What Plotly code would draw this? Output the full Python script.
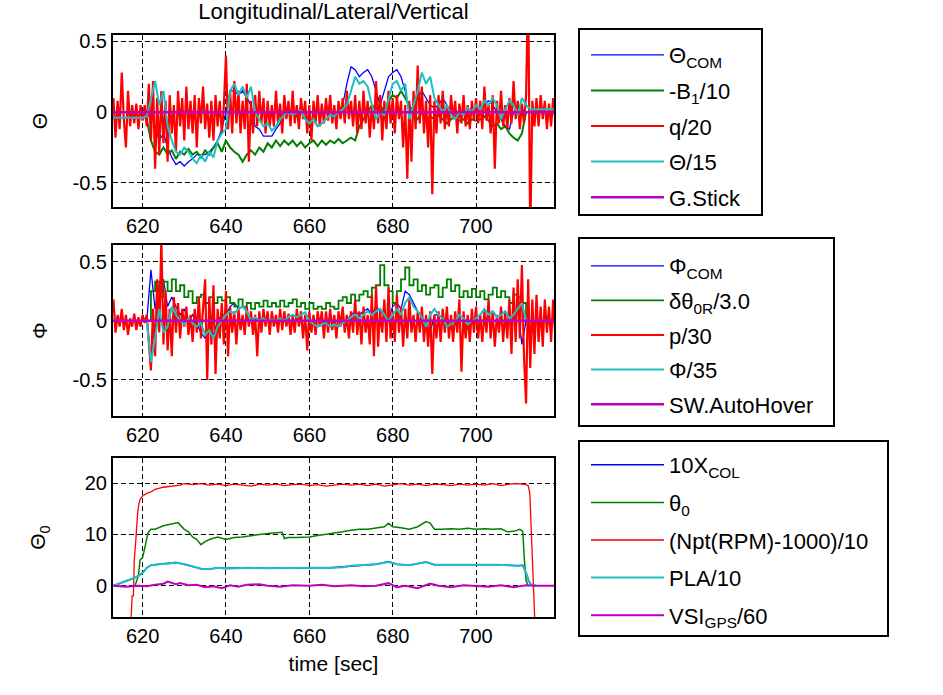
import numpy as np
import plotly.graph_objects as go

FONT = "Liberation Sans, Arial, sans-serif"
BLUE = "rgb(0,0,255)"
GREEN = "rgb(0,128,0)"
RED = "rgb(255,0,0)"
CYAN = "rgb(30,190,195)"
MAGENTA = "rgb(191,0,191)"

# ---------------- Panel 1 : Theta ----------------
q20_start, q20_step = 613.0, 0.5
q20_vals = [
    0.10, -0.18, 0.08, -0.12, 0.28, -0.05, -0.25, 0.15, -0.10, 0.05,
    -0.08, 0.06, -0.12, 0.05, -0.06, 0.05, -0.10, 0.20, -0.20, 0.22,
    -0.40, 0.10, -0.30, 0.15, -0.22, 0.08, -0.35, 0.12, -0.15, 0.05,
    -0.28, 0.15, -0.10, 0.10, -0.20, 0.18, -0.12, 0.08, -0.15, 0.12,
    -0.25, 0.10, -0.08, 0.18, -0.12, 0.06, -0.18, 0.08, -0.20, 0.12,
    -0.10, 0.08, -0.15, 0.05, 0.40, -0.12, 0.15, -0.15, 0.22, -0.08,
    0.15, -0.15, 0.08, -0.12, 0.20, -0.35, 0.08, -0.15, 0.12, -0.10,
    0.15, -0.08, 0.10, -0.15, 0.08, -0.10, 0.05, -0.10, 0.15, -0.08,
    0.06, -0.15, 0.12, -0.05, 0.08, -0.10, 0.15, -0.08, 0.05, -0.12,
    0.10, -0.05, 0.08, -0.15, 0.05, -0.20, 0.08, -0.08, 0.12, -0.10,
    0.06, -0.08, 0.10, -0.06, 0.12, -0.08, 0.05, -0.12, 0.08, -0.05,
    0.10, -0.08, 0.15, -0.05, 0.08, -0.10, 0.12, -0.15, 0.08, -0.12,
    0.15, -0.08, 0.08, -0.18, 0.05, -0.12, 0.22, -0.08, 0.12, -0.20,
    0.08, -0.12, 0.15, -0.08, 0.10, -0.15, 0.12, -0.05, 0.08, -0.25,
    0.05, -0.47, 0.08, -0.35, 0.15, -0.12, 0.33, -0.08, 0.18, -0.15,
    0.08, -0.25, 0.12, -0.58, 0.08, -0.15, 0.12, -0.08, 0.15, -0.12,
    0.05, -0.10, 0.12, -0.05, 0.08, -0.15, 0.06, -0.08, 0.12, -0.10,
    0.05, -0.12, 0.08, -0.06, 0.10, -0.08, 0.08, -0.12, 0.18, -0.06,
    0.05, -0.15, 0.12, -0.40, 0.08, -0.08, 0.15, -0.10, 0.05, -0.12,
    0.10, -0.08, 0.22, -0.05, 0.08, -0.12, 0.06, -0.08, 0.12, 0.90,
    -0.90, 0.08, -0.10, 0.10, -0.10, 0.12, -0.05, 0.08, -0.12, 0.06,
    -0.10, 0.10, -0.05,
]
theta15_start = 613.0
theta15_vals = [
    -0.04, -0.04, -0.04, -0.04, -0.04, -0.04, -0.04, -0.04, -0.03, 0.10,
    0.22, 0.05, 0.15, -0.10, -0.20, -0.28, -0.30, -0.25, -0.28, -0.33,
    -0.36, -0.30, -0.35, -0.28, -0.32, -0.20, -0.15, -0.12, 0.15, 0.20,
    0.12, 0.18, 0.10, 0.18, 0.00, -0.05, -0.10, -0.08, -0.13, -0.10,
    -0.05, -0.02, 0.00, -0.02, 0.00, 0.01, -0.05, -0.08, -0.05, -0.10,
    -0.08, -0.05, -0.02, -0.03, 0.00, 0.02, 0.05, 0.15, 0.25, 0.20,
    0.22, 0.18, 0.05, -0.05, 0.00, -0.02, 0.10, 0.20, 0.22, 0.15,
    0.20, -0.05, 0.05, 0.15, 0.28, 0.20, 0.25, 0.10, 0.05, 0.00,
    0.05, -0.02, -0.05, 0.00, -0.02, 0.03, 0.00, 0.05, 0.02, 0.08,
    0.05, 0.10, 0.05, -0.05, 0.02, 0.08, 0.05, -0.02, 0.10, 0.05,
    0.02, 0.02, 0.02, 0.02, 0.02, 0.02, 0.02,
]
thetacom_start = 613.0
thetacom_vals = [
    -0.04, -0.04, -0.04, -0.04, -0.04, -0.04, -0.04, -0.04, -0.04, 0.00,
    -0.10, -0.20, -0.15, -0.25, -0.32, -0.37, -0.35, -0.38, -0.35, -0.33,
    -0.30, -0.30, -0.30, -0.28, -0.25, -0.20, -0.12, 0.00, 0.15, 0.15,
    0.12, 0.15, 0.10, 0.05, -0.10, -0.12, -0.17, -0.17, -0.17, -0.12,
    -0.08, -0.02, 0.00, -0.02, 0.00, 0.02, -0.05, -0.08, -0.05, -0.10,
    -0.08, -0.05, -0.02, -0.03, 0.00, 0.05, 0.20, 0.32, 0.30, 0.25,
    0.28, 0.30, 0.25, 0.15, 0.05, 0.15, 0.25, 0.28, 0.30, 0.25,
    0.15, 0.00, 0.05, 0.10, 0.15, 0.10, 0.05, 0.03, 0.05, 0.10,
    0.05, 0.00, -0.05, 0.00, -0.02, 0.03, 0.00, 0.05, 0.02, 0.06,
    0.08, 0.05, 0.00, -0.05, -0.10, -0.12, 0.00, 0.05, 0.02, 0.00,
]
b1_start = 621.0
b1_vals = [
    -0.05, -0.20, -0.28, -0.30, -0.25, -0.30, -0.27, -0.33, -0.28, -0.30,
    -0.26, -0.30, -0.28, -0.32, -0.27, -0.30, -0.25, -0.22, -0.28, -0.20,
    -0.25, -0.28, -0.30, -0.35, -0.30, -0.27, -0.30, -0.25, -0.28, -0.22,
    -0.25, -0.20, -0.24, -0.20, -0.23, -0.20, -0.24, -0.21, -0.25, -0.22,
    -0.20, -0.24, -0.20, -0.23, -0.20, -0.22, -0.19, -0.22, -0.20, -0.18,
    -0.20, -0.10, -0.05, 0.00, 0.05, 0.02, 0.05, 0.00, 0.08, 0.12,
    0.10, 0.15, 0.10, 0.05, -0.02, -0.05, 0.00, -0.05, -0.03, -0.05,
    -0.02, -0.05, -0.08, -0.05, -0.03, -0.06, -0.05, -0.08, -0.05, -0.06,
    -0.05, -0.03, -0.06, -0.10, -0.08, -0.12, -0.10, -0.15, -0.18, -0.20,
    -0.15, 0.00,
]
gstick_t = [613.0, 719.0]
gstick_vals = [0.0, 0.0]

# ---------------- Panel 2 : Phi ----------------
p30_start, p30_step = 613.0, 0.5
p30_vals = [
    0.18, -0.10, 0.05, -0.05, 0.10, -0.08, 0.05, -0.12, 0.02, -0.05,
    0.06, -0.08, 0.03, -0.05, 0.05, -0.02, 0.05, -0.20, -0.42, 0.10,
    -0.30, 0.35, -0.10, 0.70, -0.20, 0.25, -0.25, 0.10, -0.30, 0.20,
    -0.10, 0.15, -0.15, 0.10, -0.05, 0.12, -0.12, 0.05, -0.18, 0.10,
    -0.10, 0.20, -0.15, 0.10, 0.35, -0.50, 0.20, -0.20, 0.30, -0.45,
    0.10, -0.15, 0.15, -0.20, 0.25, -0.30, 0.12, -0.10, 0.08, -0.20,
    0.10, -0.08, 0.05, -0.12, 0.12, -0.05, 0.08, -0.12, 0.05, -0.30,
    0.08, -0.10, 0.10, -0.05, 0.08, -0.12, 0.08, -0.05, 0.05, -0.10,
    0.10, -0.08, 0.08, -0.05, 0.06, -0.12, 0.05, -0.10, 0.10, -0.05,
    0.08, -0.15, 0.05, -0.25, 0.08, -0.10, 0.05, -0.12, 0.08, -0.05,
    0.08, -0.15, 0.08, -0.10, 0.10, -0.08, 0.05, -0.15, 0.08, -0.05,
    0.12, -0.10, 0.05, -0.15, 0.08, -0.10, 0.18, -0.12, 0.08, -0.20,
    0.12, -0.10, 0.05, -0.20, 0.22, -0.30, 0.30, -0.22, 0.08, -0.10,
    0.18, -0.18, 0.28, -0.15, 0.08, -0.18, 0.22, -0.10, 0.12, -0.22,
    0.10, -0.15, 0.18, -0.10, 0.05, -0.18, 0.08, -0.10, 0.12, -0.18,
    0.05, -0.22, 0.08, -0.45, 0.05, -0.15, 0.08, -0.18, 0.10, -0.10,
    0.12, -0.15, 0.05, -0.18, 0.08, -0.10, 0.18, -0.43, 0.08, -0.15,
    0.05, -0.18, 0.10, -0.10, 0.12, -0.15, 0.05, -0.18, 0.08, -0.10,
    0.18, -0.15, 0.08, -0.22, 0.05, -0.10, 0.12, -0.18, 0.08, -0.15,
    0.18, -0.28, 0.28, -0.18, 0.35, -0.15, 0.47, -0.30, -0.70, 0.35,
    -0.40, 0.18, -0.28, 0.22, -0.18, 0.12, -0.22, 0.18, -0.10, 0.12,
    -0.18, 0.18, -0.12,
]
phi35_start = 613.0
phi35_vals = [
    0.00, 0.00, 0.00, 0.00, 0.00, 0.00, 0.00, 0.00, 0.00, -0.35,
    -0.15, 0.10, -0.10, -0.05, 0.12, 0.05, 0.00, -0.03, 0.02, -0.02,
    -0.05, -0.02, -0.12, -0.08, -0.15, -0.05, 0.00, 0.05, 0.08, 0.06,
    0.10, 0.12, 0.08, 0.00, 0.03, 0.00, 0.02, 0.00, 0.01, 0.00,
    0.02, 0.00, 0.03, 0.05, 0.03, 0.05, 0.07, 0.00, -0.03, -0.05,
    -0.03, -0.02, -0.05, -0.03, -0.05, -0.02, 0.00, 0.03, 0.05, 0.02,
    0.05, 0.08, 0.05, 0.08, 0.10, 0.05, 0.00, 0.05, 0.10, 0.05,
    0.15, 0.20, 0.12, 0.08, 0.03, -0.05, 0.05, 0.10, 0.05, 0.02,
    -0.05, -0.03, 0.00, 0.05, 0.02, -0.03, 0.00, 0.02, 0.05, 0.10,
    0.05, 0.08, 0.03, 0.05, 0.08, 0.02, 0.05, 0.10, 0.15, 0.00,
    0.00, 0.00, 0.00, 0.00, 0.00, 0.00, 0.00,
]
phicom_start = 613.0
phicom_vals = [
    0.00, 0.00, 0.00, 0.00, 0.00, 0.00, 0.00, 0.00, 0.00, 0.43,
    0.10, 0.30, 0.35, 0.12, 0.20, 0.12, 0.05, 0.10, 0.00, 0.05,
    -0.02, -0.10, -0.15, -0.05, -0.12, 0.00, 0.05, 0.05, 0.12, 0.15,
    0.10, 0.12, 0.08, 0.00, 0.03, 0.00, 0.02, 0.00, 0.01, 0.00,
    0.02, 0.00, 0.03, 0.05, 0.03, 0.05, 0.07, 0.00, -0.03, -0.05,
    -0.03, -0.02, -0.05, -0.03, -0.05, -0.02, 0.00, 0.05, 0.08, 0.05,
    0.08, 0.10, 0.05, 0.12, 0.08, 0.05, 0.02, 0.12, 0.15, 0.10,
    0.25, 0.22, 0.15, 0.08, 0.03, -0.05, -0.10, 0.05, 0.05, 0.02,
    -0.05, -0.03, 0.00, 0.05, 0.02, -0.03, 0.00, 0.02, 0.05, 0.10,
    0.05, 0.08, 0.03, 0.05, 0.08, 0.02, 0.05, 0.10, -0.20, 0.00,
    0.00,
]
d0r_start = 621.0
d0r_vals = [
    0.00, 0.25, 0.33, 0.20, 0.33, 0.25, 0.35, 0.25, 0.30, 0.20,
    0.25, 0.15, 0.20, 0.22, 0.15, 0.20, 0.15, 0.20, 0.17, 0.20,
    0.15, 0.12, 0.18, 0.12, 0.15, 0.10, 0.15, 0.12, 0.17, 0.12,
    0.15, 0.12, 0.17, 0.12, 0.15, 0.18, 0.12, 0.15, 0.10, 0.15,
    0.10, 0.12, 0.10, 0.15, 0.12, 0.10, 0.17, 0.20, 0.15, 0.22,
    0.17, 0.22, 0.25, 0.20, 0.28, 0.30, 0.47, 0.30, 0.25, 0.15,
    0.25, 0.35, 0.45, 0.30, 0.35, 0.25, 0.30, 0.22, 0.28, 0.30,
    0.20, 0.28, 0.35, 0.25, 0.30, 0.20, 0.25, 0.20, 0.27, 0.20,
    0.25, 0.18, 0.22, 0.28, 0.20, 0.25, 0.20, 0.15, 0.22, 0.20,
    0.15, 0.00,
]
autohover_t = [613.0, 719.0]
autohover_vals = [0.0, 0.0]

# ---------------- Panel 3 : Theta0 ----------------
npt_t = [617.2, 617.5, 617.8, 618.0, 618.3, 618.5, 618.8, 619.1, 619.5, 620.0,
         621.0, 622.0, 623.0, 625.0, 627.0, 629.0, 630.0,
         632.0, 634.0, 636.0, 638.0, 640.0, 642.0, 644.0, 646.0, 648.0, 650.0,
         652.0, 654.0, 656.0, 658.0, 660.0, 662.0, 664.0, 666.0, 668.0, 670.0,
         672.0, 674.0, 676.0, 678.0, 680.0, 682.0, 684.0, 686.0, 688.0, 690.0,
         692.0, 694.0, 696.0, 698.0, 700.0, 702.0, 704.0, 706.0, 708.0, 710.0,
         712.0, 712.5, 712.9, 713.2, 713.5, 713.8, 714.1]
npt_vals = [-7, -2, -2, 5, 8, 11, 14, 16, 17, 17.5,
            18, 18.3, 18.8, 19.2, 19.4, 19.6, 19.9,
            19.7, 19.9, 19.6, 19.8, 19.5, 19.8, 19.6, 19.4, 19.8, 19.6,
            19.8, 19.5, 19.7, 19.8, 19.5, 19.7, 19.4, 19.6, 19.8, 19.6,
            19.8, 19.5, 19.8, 19.4, 19.7, 19.9, 19.6, 19.8, 19.5, 19.8,
            19.7, 19.5, 19.8, 19.6, 19.8, 19.6, 19.9, 19.5, 19.8, 19.9,
            19.7, 19.5, 18, 12, 3, -3, -7]
th0_t = [618.2, 619.0, 619.4, 620.0, 620.7, 621.3, 622.0, 623.0, 625.0, 627.0, 628.5,
         630.0, 631.0, 632.0, 633.0, 634.0, 635.0, 636.0, 638.0, 640.0, 642.0,
         644.0, 646.0, 648.0, 650.0, 652.0, 653.5, 654.0, 655.0, 657.0, 660.0,
         662.0, 664.0, 666.0, 668.0, 670.0, 672.0, 674.0, 676.0, 678.0, 679.0,
         680.0, 682.0, 684.0, 686.0, 688.0, 689.0, 690.0, 692.0, 694.0, 696.0,
         698.0, 700.0, 702.0, 704.0, 706.0, 707.5, 709.0, 710.5, 711.2, 711.6,
         712.0, 712.5]
th0_vals = [0, 2, 5, 5.5, 8, 10.3, 11, 11, 11.7, 12, 12.3,
            11, 10.5, 9.5, 9, 8, 8.6, 9, 9.5, 9, 9.4,
            9.5, 9.8, 10, 10.2, 10.3, 10.4, 9.2, 9.4, 9.4, 9.5,
            9.8, 10, 10.3, 10.5, 10.8, 11, 11, 11.2, 11.5, 12.2,
            11.5, 11.3, 11, 11.5, 12.5, 12.2, 11, 11, 11.1, 11,
            11.2, 11, 11.1, 11, 11.1, 10.5, 10.6, 11, 10.6, 5,
            1, 0]
pla_t = [613, 614, 615, 616, 617, 618, 619, 620, 621, 622,
         624, 626, 628, 630, 632, 634, 636, 638, 640,
         645, 650, 655, 660, 665,
         668, 670, 672, 676, 679, 681, 684, 688, 690,
         695, 700, 705, 710,
         711.2, 712, 712.6, 713.2, 714.5]
pla_vals = [0, 0.3, 0.6, 0.8, 1.2, 1.5, 1.9, 2.5, 3.5, 4,
            4.2, 4.4, 4.5, 4.2, 3.8, 3.3, 3.2, 3.5, 3.3,
            3.5, 3.4, 3.5, 3.5, 3.5,
            3.6, 3.9, 4.0, 4.2, 4.6, 4.2, 4.0, 4.6, 4.1,
            4.1, 4.0, 4.1, 3.9,
            4.0, 2.5, 1.0, 0.2, 0.0]
xcol_t = pla_t
xcol_vals = [0, 0.3, 0.6, 0.8, 1.2, 1.5, 1.9, 2.5, 3.5, 4,
             4.2, 4.4, 4.5, 4.2, 3.8, 3.3, 3.2, 3.5, 3.4,
             3.5, 3.4, 3.5, 3.5, 3.5,
             3.7, 3.9, 4.0, 4.2, 4.7, 4.2, 4.0, 4.6, 4.1,
             4.1, 4.0, 4.1, 3.9,
             4.0, 2.5, 1.0, 0.2, 0.0]
vsi_t = [613, 616, 619, 621, 623, 625, 626, 628, 629, 631,
         633, 635, 637, 639, 641, 643, 645, 648, 650, 653,
         656, 660, 663, 666, 670, 673, 676, 679, 681, 683,
         686, 689, 691, 694, 697, 700, 703, 706, 709, 712,
         714, 719]
vsi_vals = [0, -0.2, 0, -0.1, 0.2, 0.4, 0.8, 0.3, 0.5, 0.1,
            0.2, -0.3, -0.1, -0.5, 0.1, -0.2, 0.2, 0.3, 0.0, -0.2,
            0.1, 0.0, 0.2, -0.1, 0.1, -0.1, 0.0, 0.5, -0.3, 0.0,
            -0.5, 0.4, 0.0, -0.3, 0.1, 0.0, -0.2, 0.1, -0.3, 0.1,
            0.0, 0.0]

# axis text
x_ticks = [620, 640, 660, 680, 700]
y12_ticks = [-0.5, 0, 0.5]
y12_ticklabels = ["-0.5", "0", "0.5"]
y3_ticks = [0, 10, 20]
y3_ticklabels = ["0", "10", "20"]


def grid_t(start, step, vals):
    return start + step * np.arange(len(vals))


W, H = 943, 695


def px(x):
    return x / W


def py(y):
    return 1 - y / H


fig = go.Figure()


def add(x, y, name, color, width, axis, legend, shape="linear"):
    fig.add_trace(go.Scatter(
        x=list(x), y=list(y), name=name, mode="lines",
        line=dict(color=color, width=width, shape=shape),
        xaxis="x" + axis, yaxis="y" + axis,
        legend=legend, legendgroup=legend + name, hoverinfo="skip",
    ))


# panel 1
add(grid_t(thetacom_start, 1.0, thetacom_vals), thetacom_vals, "Θ<sub>COM</sub>", BLUE, 1.3, "", "legend")
add(grid_t(b1_start, 1.0, b1_vals), b1_vals, "-B<sub>1</sub>/10", GREEN, 2, "", "legend")
add(grid_t(q20_start, q20_step, q20_vals), q20_vals, "q/20", RED, 2.2, "", "legend")
add(grid_t(theta15_start, 1.0, theta15_vals), theta15_vals, "Θ/15", CYAN, 2, "", "legend")
add(gstick_t, gstick_vals, "G.Stick", MAGENTA, 2.5, "", "legend")
# panel 2
add(grid_t(phicom_start, 1.0, phicom_vals), phicom_vals, "Φ<sub>COM</sub>", BLUE, 1.3, "2", "legend2")
add(grid_t(d0r_start, 1.0, d0r_vals), d0r_vals, "δθ<sub>0R</sub>/3.0", GREEN, 1.8, "2", "legend2", "hv")
add(grid_t(p30_start, p30_step, p30_vals), p30_vals, "p/30", RED, 2.2, "2", "legend2")
add(grid_t(phi35_start, 1.0, phi35_vals), phi35_vals, "Φ/35", CYAN, 2, "2", "legend2")
add(autohover_t, autohover_vals, "SW.AutoHover", MAGENTA, 2.5, "2", "legend2")
# panel 3
add(xcol_t, xcol_vals, "10X<sub>COL</sub>", BLUE, 1.5, "3", "legend3")
add(th0_t, th0_vals, "θ<sub>0</sub>", GREEN, 1.5, "3", "legend3")
add(npt_t, npt_vals, "(Npt(RPM)-1000)/10", RED, 1.3, "3", "legend3")
add(pla_t, pla_vals, "PLA/10", CYAN, 2, "3", "legend3")
add(vsi_t, vsi_vals, "VSI<sub>GPS</sub>/60", MAGENTA, 2, "3", "legend3")

xdom = [px(113), px(554)]
tick_font = dict(family=FONT, size=20, color="black")


def xax(anchor, title=None):
    d = dict(domain=xdom, anchor=anchor, range=[612.9, 718.7], tickvals=x_ticks,
             showline=True, linecolor="black", linewidth=2, mirror=True,
             showgrid=True, gridcolor="black", gridwidth=1, griddash="5px,3px",
             zeroline=False, ticks="", tickfont=tick_font, automargin=False)
    if title:
        d["title"] = dict(text=title, font=dict(family=FONT, size=21, color="black"), standoff=10)
    return d


def yax(anchor, dom, rng, tv, tt, title, standoff):
    return dict(domain=dom, anchor=anchor, range=rng, tickvals=tv, ticktext=tt,
                showline=True, linecolor="black", linewidth=2, mirror=True,
                showgrid=True, gridcolor="black", gridwidth=1, griddash="5px,3px",
                zeroline=False, ticks="", tickfont=tick_font, automargin=False,
                title=dict(text=title, font=dict(family=FONT, size=21, color="black"), standoff=standoff))


def leg(left, top, gap):
    return dict(x=px(left + 7), y=py(top), xanchor="left", yanchor="top",
                borderwidth=0, bgcolor="rgba(0,0,0,0)",
                font=dict(family=FONT, size=22, color="black"),
                itemwidth=73, tracegroupgap=gap, traceorder="grouped")


legend_boxes = [(579, 29, 762, 215), (579, 238, 834, 426), (579, 441, 888, 636)]
shapes = [dict(type="rect", xref="paper", yref="paper",
               x0=px(a), x1=px(c), y0=py(d), y1=py(b),
               line=dict(color="black", width=2), fillcolor="rgba(0,0,0,0)")
          for a, b, c, d in legend_boxes]

fig.update_layout(
    width=W, height=H, template="none",
    paper_bgcolor="white", plot_bgcolor="white",
    margin=dict(l=0, r=0, t=0, b=0),
    font=dict(family=FONT, size=20, color="black"),
    title=dict(text="Longitudinal/Lateral/Vertical", x=px(333.5), xanchor="center",
               y=py(11), yanchor="middle", font=dict(family=FONT, size=22, color="black")),
    xaxis=xax("y"),
    yaxis=yax("x", [py(207), py(35)], [-0.67, 0.545], y12_ticks, y12_ticklabels, "Θ", 19),
    xaxis2=xax("y2"),
    yaxis2=yax("x2", [py(416), py(245)], [-0.805, 0.64], y12_ticks, y12_ticklabels, "Φ", 19),
    xaxis3=xax("y3", "time [sec]"),
    yaxis3=yax("x3", [py(617), py(458)], [-6.1, 24.9], y3_ticks, y3_ticklabels, "Θ<sub>0</sub>", 33),
    legend=leg(579, 29 + 5, 4),
    legend2=leg(579, 238 + 7, 3),
    legend3=leg(579, 441 + 3, 6),
    shapes=shapes,
    showlegend=True,
)

# the page body normally has an 8px margin; remove it so the figure sits at (0, 0)
fig.write_html("out.html", config={"displayModeBar": False},
               post_script="document.body.style.margin='0px';")
